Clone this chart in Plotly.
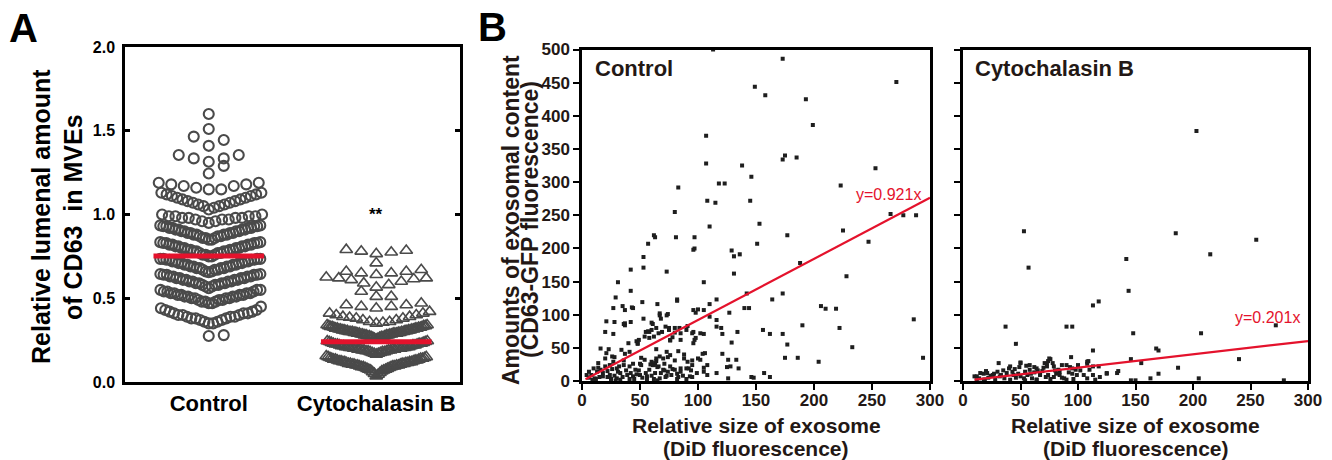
import numpy as np
import plotly.graph_objects as go

# ---------------- panel A: relative lumenal CD63 in MVEs ----------------
categories = ["Control", "Cytochalasin B"]

control_lumenal = [
	0.275, 0.28,
	0.35, 0.35, 0.36, 0.36, 0.37, 0.37, 0.38, 0.38, 0.38, 0.39, 0.39, 0.39,
	0.40, 0.40, 0.40, 0.41, 0.41, 0.41, 0.42, 0.42, 0.43, 0.43, 0.44, 0.45,
	0.47, 0.47, 0.48, 0.48, 0.48, 0.49, 0.49, 0.49, 0.50, 0.50, 0.50, 0.50,
	0.51, 0.51, 0.51, 0.51, 0.52, 0.52, 0.52, 0.52, 0.53, 0.53, 0.53, 0.53,
	0.54, 0.54, 0.54, 0.55, 0.55, 0.55,
	0.56, 0.57, 0.57, 0.58, 0.58, 0.58, 0.59, 0.59, 0.59, 0.59, 0.60, 0.60,
	0.60, 0.60, 0.61, 0.61, 0.61, 0.61, 0.62, 0.62, 0.62, 0.62, 0.63, 0.63,
	0.63, 0.63, 0.64, 0.64, 0.64, 0.64, 0.645, 0.645,
	0.655, 0.66, 0.66, 0.67, 0.67, 0.67, 0.68, 0.68, 0.68, 0.68, 0.69, 0.69,
	0.69, 0.69, 0.70, 0.70, 0.70, 0.70, 0.71, 0.71, 0.71, 0.71, 0.72, 0.72,
	0.72, 0.72, 0.73, 0.73, 0.73, 0.73, 0.735, 0.735, 0.735, 0.735,
	0.75, 0.75, 0.76, 0.76, 0.76, 0.77, 0.77, 0.77, 0.78, 0.78, 0.78, 0.78,
	0.79, 0.79, 0.79, 0.79, 0.80, 0.80, 0.80, 0.80, 0.81, 0.81, 0.81, 0.81,
	0.82, 0.82, 0.82, 0.82, 0.83, 0.83, 0.83, 0.83, 0.835, 0.835,
	0.85, 0.85, 0.86, 0.86, 0.86, 0.87, 0.87, 0.87, 0.88, 0.88, 0.88, 0.88,
	0.89, 0.89, 0.89, 0.89, 0.90, 0.90, 0.90, 0.90, 0.91, 0.91, 0.91, 0.91,
	0.92, 0.92, 0.92, 0.92, 0.93, 0.93, 0.93, 0.93, 0.935, 0.935,
	0.95, 0.96, 0.96, 0.97, 0.97, 0.97, 0.98, 0.98, 0.98, 0.98, 0.99, 0.99,
	0.99, 0.99, 1.00, 1.00,
	1.03, 1.04, 1.05, 1.05, 1.06, 1.06, 1.07, 1.07, 1.08, 1.08, 1.09, 1.09,
	1.10, 1.10, 1.11, 1.11, 1.12, 1.12, 1.13, 1.13,
	1.15, 1.15, 1.16, 1.17, 1.17, 1.18, 1.18, 1.19, 1.19,
	1.245, 1.29, 1.315, 1.335, 1.335, 1.355, 1.355,
	1.41, 1.445, 1.465, 1.51, 1.60,
]

cytob_lumenal = [
	0.035, 0.045, 0.05, 0.055, 0.06, 0.065, 0.07, 0.07, 0.075, 0.075, 0.08, 0.08,
	0.085, 0.085, 0.09, 0.09, 0.09, 0.095, 0.095, 0.095, 0.10, 0.10, 0.10, 0.10,
	0.105, 0.105, 0.105, 0.11, 0.11, 0.11, 0.11, 0.115, 0.115, 0.115, 0.12, 0.12,
	0.12, 0.12, 0.125, 0.125, 0.125, 0.13, 0.13, 0.13, 0.135, 0.135, 0.135, 0.14,
	0.14, 0.14, 0.145, 0.145, 0.15, 0.15, 0.155,
	0.165, 0.17, 0.17, 0.175, 0.175, 0.18, 0.18, 0.18, 0.185, 0.185, 0.185, 0.19,
	0.19, 0.19, 0.19, 0.195, 0.195, 0.195, 0.195, 0.20, 0.20, 0.20, 0.20, 0.20,
	0.205, 0.205, 0.205, 0.205, 0.21, 0.21, 0.21, 0.21, 0.215, 0.215, 0.215, 0.22,
	0.22, 0.22, 0.225, 0.225, 0.225, 0.23, 0.23, 0.23, 0.235, 0.235, 0.24, 0.24,
	0.245, 0.245,
	0.255, 0.26, 0.26, 0.265, 0.265, 0.27, 0.27, 0.27, 0.275, 0.275, 0.275, 0.28,
	0.28, 0.28, 0.28, 0.285, 0.285, 0.285, 0.285, 0.29, 0.29, 0.29, 0.29, 0.29,
	0.295, 0.295, 0.295, 0.295, 0.30, 0.30, 0.30, 0.30, 0.30, 0.305, 0.305, 0.305,
	0.305, 0.31, 0.31, 0.31, 0.31, 0.315, 0.315, 0.315, 0.315, 0.32, 0.32, 0.32,
	0.32, 0.325, 0.325, 0.325, 0.33, 0.33, 0.33, 0.335, 0.335, 0.335, 0.34, 0.34,
	0.35, 0.355, 0.36, 0.36, 0.37, 0.37, 0.38, 0.38, 0.385, 0.39, 0.39, 0.40,
	0.40, 0.41, 0.41, 0.42,
	0.44, 0.45, 0.45, 0.46, 0.46, 0.47,
	0.51, 0.51, 0.54,
	0.565, 0.58, 0.59, 0.60, 0.61, 0.615, 0.62, 0.62, 0.625,
	0.64, 0.65, 0.65, 0.66, 0.66, 0.67,
	0.71,
	0.765, 0.775, 0.78, 0.785, 0.79,
]

group_means = [0.752, 0.24]
significance = "**"

# ---------------- panel B: exosome size vs content ----------------
control_size = [
	113, 173, 149, 158, 271, 193, 199, 107, 175, 173, 185, 107, 138, 253, 146, 83, 118, 123, 223, 108,
	115, 145, 80, 266, 277, 288, 153, 110, 62, 63, 57, 81, 97, 97, 96, 151, 177, 225, 247, 53,
	129, 131, 136, 53, 73, 42, 131, 188, 228, 31, 105, 42, 29, 82, 116, 142, 173, 164, 140, 144,
	206, 210, 219, 27, 37, 35, 44, 52, 65, 110, 96, 98, 105, 127, 110, 67, 73, 21, 37, 37,
	42, 53, 61, 68, 91, 116, 116, 286, 190, 222, 20, 27, 47, 48, 55, 58, 69, 75, 78, 76,
	80, 84, 96, 97, 105, 120, 121, 134, 156, 162, 173, 177, 129, 40, 64, 106, 233, 294, 204, 175,
	186, 121, 126, 133, 135, 125, 128, 116, 108, 100, 104, 83, 88, 88, 80, 74, 67, 64, 63, 61,
	92, 94, 95, 105, 95, 91, 51, 50, 49, 59, 65, 71, 74, 82, 85, 71, 78, 146, 148, 157,
	162, 126, 65, 56, 41, 29, 22,
	43, 82, 100, 28, 36, 67, 74, 60, 57, 54, 60, 64, 72, 75, 80, 85, 90, 95, 102, 49,
	48, 58, 62, 66, 76, 85, 98, 96, 16, 23, 21, 26, 34, 37, 41, 20, 14, 10, 6, 4,
	16, 20, 24, 27, 30, 36, 41, 46, 51, 54, 60, 64, 70, 73, 76, 62, 66, 58, 63, 70,
	76, 80, 85, 90, 95, 102, 108, 99, 105, 24, 33, 39, 44, 50, 56, 73, 87, 93, 11, 18,
	30, 67, 82, 8, 13,
	12, 15, 18, 22, 25, 28, 31, 33, 35, 38, 42, 45, 47, 52, 55, 60, 62, 68, 72, 77,
	83, 90, 6, 9, 14, 26, 32, 44, 36, 28,
]
control_content = [
	500, 486, 444, 431, 451, 425, 386, 370, 340, 334, 337, 328, 325, 321, 308, 292, 298, 298, 295, 272,
	269, 272, 255, 252, 250, 250, 237, 233, 220, 217, 207, 217, 217, 200, 198, 207, 220, 227, 210, 187,
	197, 188, 191, 171, 165, 168, 162, 178, 158, 149, 149, 136, 126, 123, 123, 132, 132, 123, 110, 110,
	113, 109, 109, 110, 107, 113, 110, 119, 116, 116, 107, 103, 107, 103, 97, 99, 99, 90, 87, 84,
	89, 94, 86, 94, 83, 92, 82, 93, 84, 80, 74, 71, 60, 56, 74, 74, 74, 77, 66, 62,
	73, 80, 74, 62, 71, 80, 71, 74, 77, 71, 71, 55, 58, 57, 48, 42, 51, 35, 29, 35,
	35, 41, 32, 32, 19, 21, 22, 12, 9, 34, 41, 45, 40, 34, 31, 36, 37, 30, 27, 24,
	19, 16, 6, 20, 31, 29, 35, 26, 16, 25, 21, 16, 14, 11, 19, 26, 18, 6, 5, 12,
	6, 4, 1, 3, 3, 1, 6,
	111, 121, 108, 89, 86, 102, 101, 88, 75, 67, 77, 80, 82, 80, 80, 72, 77, 72, 72, 62,
	57, 65, 67, 72, 61, 62, 65, 57, 49, 48, 42, 37, 47, 41, 44, 34, 27, 19, 14, 9,
	17, 22, 24, 29, 19, 24, 22, 17, 24, 32, 29, 34, 34, 44, 39, 24, 22, 17, 12, 17,
	22, 17, 14, 19, 24, 32, 24, 12, 14, 9, 12, 9, 7, 9, 7, 8, 8, 7, 4, 7,
	4, 4, 3, 9, 14,
	3, 6, 12, 15, 3, 8, 14, 2, 6, 16, 12, 3, 10, 5, 12, 8, 3, 12, 6, 9,
	6, 3, 5, 2, 20, 18, 22, 26, 31, 36,
]

cytob_size = [
	203, 53, 185, 255, 215, 57, 142, 144, 113, 118, 37, 90, 95, 148, 207, 272, 46, 113, 94, 168,
	170, 240, 146, 155, 187, 170, 163, 205, 279, 146, 150, 134, 135, 125, 109, 108, 113, 31, 50, 49,
	58, 76, 74, 78, 70, 65, 62, 40, 35, 43, 44, 33, 27, 18, 10, 12, 19, 53, 64, 79,
	88, 95, 102, 105, 115, 119, 86, 93, 98, 84, 67, 72, 59, 80, 54, 73, 108,
	50, 41, 55, 58, 64, 71, 75, 73, 79, 83, 90, 95, 100, 108, 110, 118, 125, 15, 21, 26,
	12, 32, 50, 67, 84, 99, 113, 18, 41, 54, 64, 76, 90,
	14, 22, 24, 28, 36, 38, 46, 48, 56, 60, 62, 69, 74, 81, 86, 92, 96, 20, 30, 45,
]
cytob_content = [
	377, 226, 223, 213, 191, 171, 184, 136, 114, 120, 82, 82, 82, 72, 72, 84, 56, 46, 36, 49,
	46, 33, 33, 27, 20, 11, 4, 4, 1, 1, 1, 12, 15, 11, 30, 26, 22, 27, 27, 21,
	24, 33, 30, 27, 20, 16, 21, 19, 16, 14, 9, 9, 11, 11, 7, 1, 2, 4, 2, 6,
	4, 11, 16, 9, 2, 6, 24, 21, 17, 14, 11, 6, 11, 16, 14, 26, 4,
	28, 22, 23, 17, 19, 27, 34, 22, 22, 17, 24, 19, 24, 29, 17, 22, 12, 12, 12, 9,
	7, 7, 7, 9, 9, 9, 9, 2, 2, 1, 2, 3, 2,
	4, 5, 8, 3, 4, 12, 5, 11, 9, 4, 13, 15, 9, 11, 5, 13, 3, 15, 14, 18,
]

fit_slopes = [0.921, 0.201]
fit_x_start = [3, 10]
fit_x_end = [300, 300]
fit_labels = ["y=0.921x", "y=0.201x"]
panel_b_titles = ["Control", "Cytochalasin B"]

# ---------------- styling ----------------
W, H = 1332, 460
FONT = "Liberation Sans, Arial, Helvetica, sans-serif"
GRAY = "#4a4a4a"
RED = "#e4122c"
INK = "#231815"

def px(x):
	return x / W

def py(y):
	return 1 - y / H

A_LEFT, A_RIGHT, A_TOP, A_BOTTOM = 125, 460, 47, 382
A_PX_PER_UNIT = (A_BOTTOM - A_TOP) / 2.0

def column_offsets(values, edges, spread_px=100, step_max_px=15):
	# Prism-like column scatter: points of a bin are spread from the centre outward
	vals = np.asarray(values, dtype=float)
	off = np.zeros(len(vals))
	bins = np.digitize(vals, edges)
	for b in np.unique(bins):
		idx = np.where(bins == b)[0]
		idx = idx[np.argsort(vals[idx], kind="stable")]
		n = len(idx)
		step = step_max_px if n < 2 else min(step_max_px, spread_px / (n - 1))
		for k, i in enumerate(idx):
			m = (k + 1) // 2
			sign = 1 if k % 2 == 1 else -1
			off[i] = sign * m * step
	return off / A_PX_PER_UNIT

control_edges = [0.25, 0.33, 0.46, 0.555, 0.65, 0.74, 0.84, 0.94, 1.01, 1.14, 1.22, 1.30, 1.38, 1.48, 1.55, 1.65]
cytob_edges = [0.02, 0.16, 0.25, 0.345, 0.43, 0.49, 0.56, 0.63, 0.69, 0.74, 0.82]

fig = go.Figure()

ctrl_x = 0.5 + column_offsets(control_lumenal, control_edges)
cyto_x = 1.5 + column_offsets(cytob_lumenal, cytob_edges)

fig.add_trace(go.Scatter(x=ctrl_x, y=control_lumenal, mode="markers", xaxis="x", yaxis="y",
	marker=dict(symbol="circle-open", size=10, color=GRAY, line=dict(width=2.1, color=GRAY))))
fig.add_trace(go.Scatter(x=cyto_x, y=cytob_lumenal, mode="markers", xaxis="x", yaxis="y",
	marker=dict(symbol="triangle-up-open", size=11, color=GRAY, line=dict(width=1.6, color=GRAY))))

for i, m in enumerate(group_means):
	fig.add_trace(go.Scatter(x=[i + 0.5 - 0.33, i + 0.5 + 0.33], y=[m, m], mode="lines",
		xaxis="x", yaxis="y", line=dict(color=RED, width=5)))

# panel B scatter + fits
for k, (sx, sy) in enumerate([(control_size, control_content), (cytob_size, cytob_content)]):
	xa = "x%d" % (k + 2)
	ya = "y%d" % (k + 2)
	fig.add_trace(go.Scatter(x=sx, y=sy, mode="markers", xaxis=xa, yaxis=ya,
		marker=dict(symbol="square", size=4, color="#1e1e1e", line=dict(width=0))))
	fx = np.array([fit_x_start[k], fit_x_end[k]], dtype=float)
	fig.add_trace(go.Scatter(x=fx, y=fit_slopes[k] * fx, mode="lines", xaxis=xa, yaxis=ya,
		line=dict(color=RED, width=2.2)))

tick_font_a = dict(family=FONT, size=16, color="black", weight="bold")
tick_font_b = dict(family=FONT, size=17, color=INK, weight="bold")

axis_b = dict(range=[0, 300], tickvals=[0, 50, 100, 150, 200, 250, 300], ticks="outside",
	ticklen=6, tickwidth=2, tickcolor="black", showline=True, linewidth=2.5, linecolor="black",
	mirror=True, showgrid=False, zeroline=False, tickfont=tick_font_b, automargin=False,
	ticklabelstandoff=-4)
yaxis_b = dict(range=[0, 500], dtick=50, ticks="outside", ticklen=6, tickwidth=2,
	tickcolor="black", showline=True, linewidth=2.5, linecolor="black", mirror=True,
	showgrid=False, zeroline=False, tickfont=tick_font_b, automargin=False)

b1 = (582, 930)
b2 = (963, 1308)
b_top, b_bottom = 49.5, 381

fig.update_layout(
	width=W, height=H, margin=dict(l=0, r=0, t=0, b=0, autoexpand=False),
	paper_bgcolor="white", plot_bgcolor="white", showlegend=False,
	xaxis=dict(domain=[px(A_LEFT), px(A_RIGHT)], range=[0, 2], tickvals=[0.5, 1.5],
		ticktext=categories, ticks="", showline=True, linewidth=2.5, linecolor="black",
		mirror=True, showgrid=False, zeroline=False, ticklabelstandoff=0, automargin=False,
		tickfont=dict(family=FONT, size=22, color="black", weight="bold")),
	yaxis=dict(domain=[py(A_BOTTOM), py(A_TOP)], range=[0, 2], tickvals=[0, 0.5, 1.0, 1.5, 2.0],
		tickformat=".1f", ticks="inside", ticklen=5, tickwidth=2.5, tickcolor="black",
		showline=True, linewidth=2.5, linecolor="black", mirror="ticks", showgrid=False,
		zeroline=False, tickfont=tick_font_a, ticklabelstandoff=4, automargin=False),
	xaxis2=dict(axis_b, domain=[px(b1[0]), px(b1[1])], anchor="y2"),
	yaxis2=dict(yaxis_b, domain=[py(b_bottom), py(b_top)], anchor="x2"),
	xaxis3=dict(axis_b, domain=[px(b2[0]), px(b2[1])], anchor="y3"),
	yaxis3=dict(yaxis_b, domain=[py(b_bottom), py(b_top)], anchor="x3", showticklabels=False),
)

ann = []

def text(x, y, s, size, color="black", bold=True, angle=0, xanchor="center", xref="paper", yref="paper"):
	ann.append(dict(x=x, y=y, xref=xref, yref=yref, text=s, showarrow=False, textangle=angle,
		xanchor=xanchor, yanchor="middle",
		font=dict(family=FONT, size=size, color=color, weight="bold" if bold else "normal")))

# panel letters
text(px(23), py(28), "A", 40)
text(px(492), py(27), "B", 40)

# panel A titles
text(px(41), py(217), "Relative lumenal amount", 25, angle=-90)
text(px(73), py(217), "of CD63  in MVEs", 25, angle=-90)
text(1.5, 1.0, significance, 17, xref="x", yref="y")

# panel B titles
text(px(511), py(220), "Amounts of exosomal content", 23, color=INK, angle=-90)
text(px(530), py(220), "(CD63-GFP fluorescence)", 23, color=INK, angle=-90)
for (l, r) in [b1, b2]:
	text(px((l + r) / 2), py(425), "Relative size of exosome", 21, color=INK)
	text(px((l + r) / 2), py(448), "(DiD fluorescence)", 21, color=INK)
text(px(593), py(68), panel_b_titles[0], 22, color=INK, xanchor="left")
text(px(973), py(68), panel_b_titles[1], 22, color=INK, xanchor="left")

# fit equations
text(294, 282, fit_labels[0], 16, color=RED, bold=False, xanchor="right", xref="x2", yref="y2")
text(295, 96, fit_labels[1], 16, color=RED, bold=False, xanchor="right", xref="x3", yref="y3")

fig.update_layout(annotations=ann)

fig.write_html("out.html", config={"displayModeBar": False},
	post_script="document.body.style.margin='0px';")
